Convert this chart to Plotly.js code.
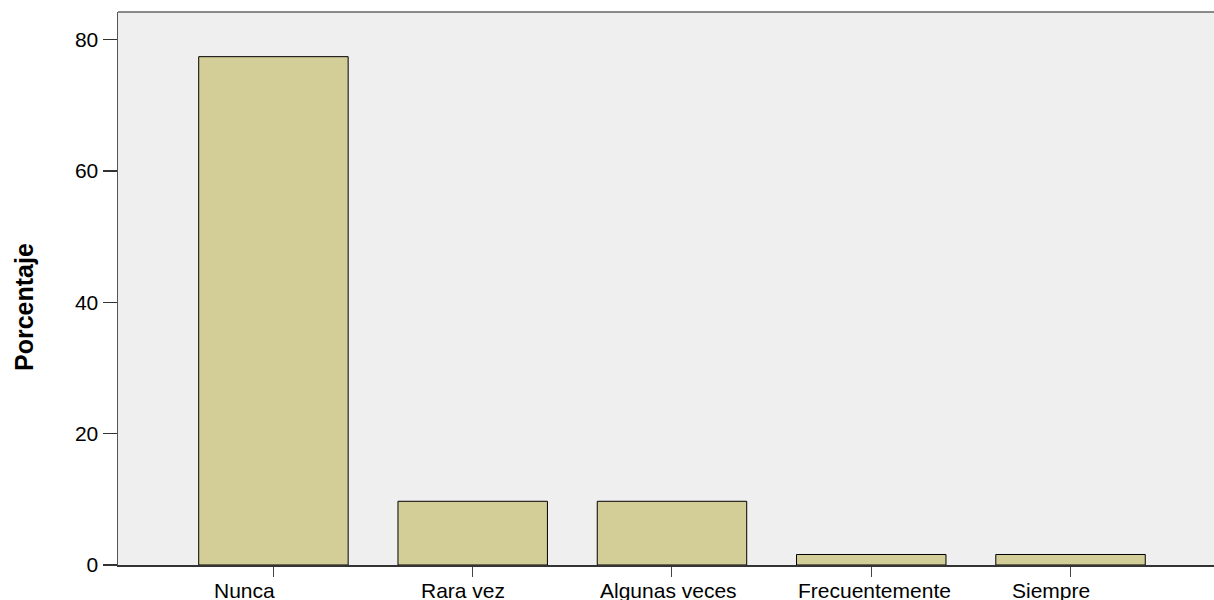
<!DOCTYPE html>
<html>
<head>
<meta charset="utf-8">
<script src="https://cdn.plot.ly/plotly-3.0.1.min.js"></script>
<style>html,body{margin:0;padding:0;background:#fff;}#chart{width:1214px;height:600px;}</style>
</head>
<body>
<div id="chart"></div>
<script>
// Data
const categories = ["Nunca", "Rara vez", "Algunas veces", "Frecuentemente", "Siempre"];
const percentages = [77.4, 9.7, 9.7, 1.6, 1.6];
const yTickValues = [0, 20, 40, 60, 80];
const yTitle = "Porcentaje";

// Layout-only label offsets (px) to mimic original placement
const labelShiftX = [-29, -10, -3, 3, -20];

const xIdx = categories.map((_, i) => i);

const trace = {
  type: 'bar',
  x: xIdx,
  y: percentages,
  width: 0.75,
  marker: { color: '#D3CE98', line: { color: '#000000', width: 1 } },
  hoverinfo: 'skip'
};

const annotations = categories.map((c, i) => ({
  x: i, xref: 'x', y: 0, yref: 'paper',
  text: c, showarrow: false,
  xanchor: 'center', yanchor: 'top',
  xshift: labelShiftX[i], yshift: -12,
  font: { family: 'Liberation Sans, Arial, sans-serif', size: 21, color: '#000' }
}));
annotations.push({
  x: 0, xref: 'paper', xshift: -94,
  y: 0.4665, yref: 'paper',
  text: '<b>' + yTitle + '</b>', textangle: -90, showarrow: false,
  xanchor: 'center', yanchor: 'middle',
  font: { family: 'Liberation Sans, Arial, sans-serif', size: 25, color: '#000' }
});

const layout = {
  width: 1214, height: 600,
  margin: { l: 118, r: 0, t: 12, b: 35 },
  paper_bgcolor: '#ffffff',
  plot_bgcolor: '#EFEFEF',
  showlegend: false,
  xaxis: {
    range: [-0.78, 4.72],
    tickvals: xIdx,
    showticklabels: false,
    ticks: 'outside', ticklen: 10, tickcolor: '#444', tickwidth: 1,
    showgrid: false, zeroline: false,
    showline: true, linecolor: '#333', linewidth: 2
  },
  yaxis: {
    range: [0, 84.2],
    tickvals: yTickValues,
    ticks: 'outside', ticklen: 14, tickcolor: '#333', tickwidth: 1.5,
    showgrid: false, zeroline: false,
    showline: true, linecolor: '#555', linewidth: 1.5,
    tickfont: { family: 'Liberation Sans, Arial, sans-serif', size: 21, color: '#000' }
  },
  shapes: [{
    type: 'line', xref: 'paper', yref: 'paper', x0: 0, x1: 1, y0: 1, y1: 1,
    line: { color: '#666', width: 1.5 }
  }],
  annotations: annotations
};

Plotly.newPlot('chart', [trace], layout, { displayModeBar: false, staticPlot: true });
</script>
</body>
</html>
